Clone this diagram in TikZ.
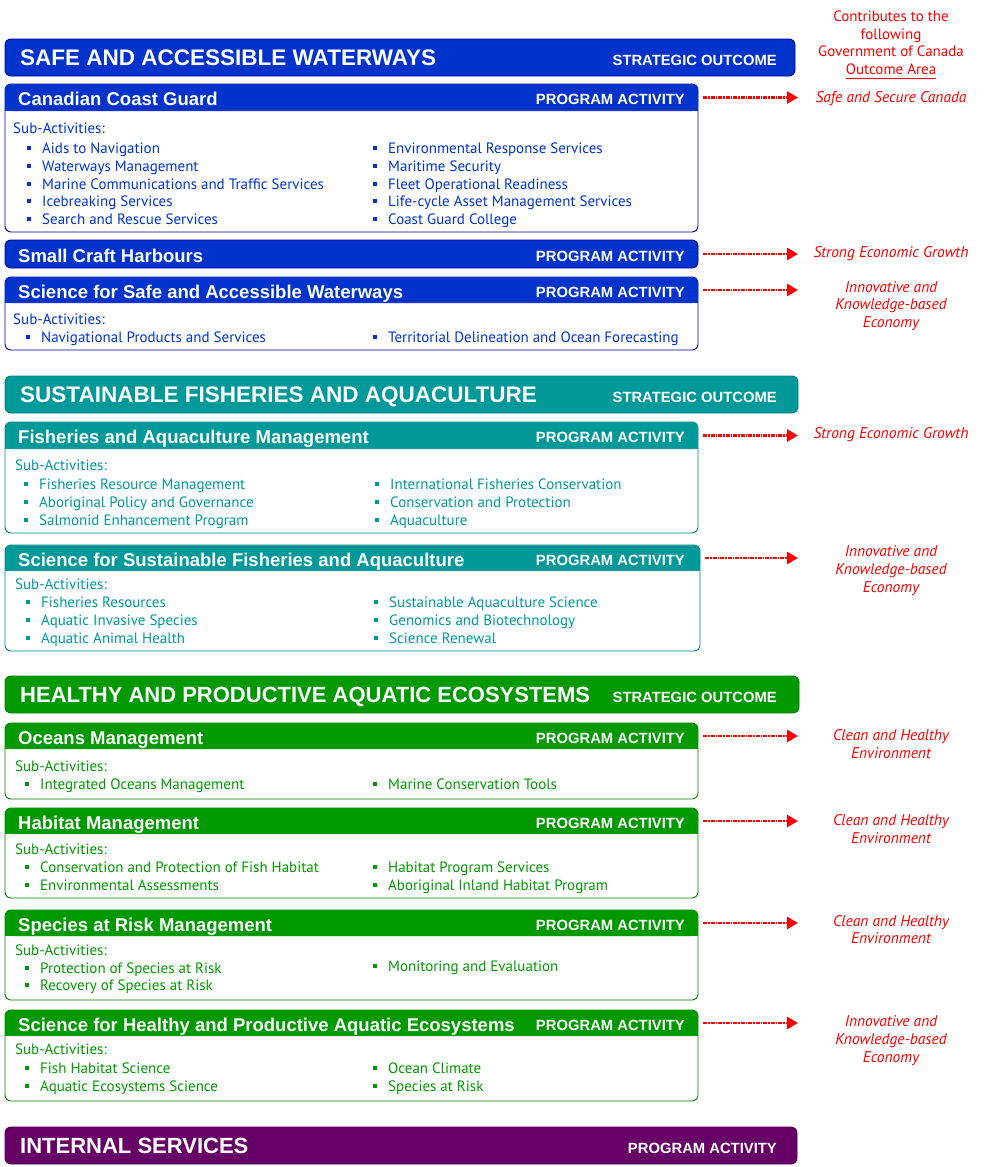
\documentclass[tikz,border=0pt]{standalone}
\usepackage{fontspec}
\setmainfont{PT Sans}
\newfontfamily\hf{Liberation Sans}
\usetikzlibrary{arrows.meta}
\definecolor{blueC}{RGB}{0,51,204}
\definecolor{blueF}{RGB}{0,0,153}
\definecolor{tealC}{RGB}{0,153,153}
\definecolor{tealF}{RGB}{0,128,128}
\definecolor{greenC}{RGB}{0,153,0}
\definecolor{greenF}{RGB}{0,128,0}
\definecolor{purpC}{RGB}{102,0,102}
\definecolor{purpF}{RGB}{80,0,80}
\definecolor{redC}{RGB}{255,0,0}
\newcounter{sacount}
\def\cur{blueC}
\newcommand\SObar[7]{%
  \draw[#5F, fill=#5C, line width=0.9pt, rounded corners=6pt] (5,#2) rectangle (#4,#3);
  \node[sotitle] (#1) at (20,{(#2+#3)/2}) {#6};
  \node[solabel] (#1lab) at (777,{(#2+#3)/2+3}) {#7};
}
\newcommand\PAbox[7]{%
  \draw[#5F, line width=0.9pt, rounded corners=6pt] (5,#2) rectangle (#7,#4);
  \fill[#5C, rounded corners=6pt] (5,#2) rectangle (#7,#3);
  \fill[#5C] (5,#3-8) rectangle (#7,#3);
  \node[patitle] (#1) at (18,{(#2+#3)/2+1.5}) {#6};
  \node[solabel] (#1lab) at (685,{(#2+#3)/2+2}) {PROGRAM ACTIVITY};
  \coordinate (#1e) at (#7,{(#2+#3)/2});
}
\newcommand\SUBS[2]{\stepcounter{sacount}\node[sub] (sa\arabic{sacount}) at (#1,#2) {Sub-Activities:};}
\newcommand\SA[3]{\stepcounter{sacount}%
  \node[bul] (bu\arabic{sacount}) at (#1-13,#2) {};
  \node[sub] (sa\arabic{sacount}) at (#1,#2) {#3};}
\newcommand\OL[3]{\node[outc] (#1) at (891,#2) {#3};}
\begin{document}
\begin{tikzpicture}[x=1pt,y=-1pt,
  sotitle/.style={font=\hf\bfseries\fontsize{22.5}{24}\selectfont, text=white, inner sep=0pt, text height=15pt, text depth=0pt, anchor=west},
  solabel/.style={font=\hf\bfseries\fontsize{14.8}{16}\selectfont, text=white, inner sep=0pt, text height=10.6pt, text depth=0pt, anchor=east},
  patitle/.style={font=\hf\bfseries\fontsize{18.5}{20}\selectfont, text=white, inner sep=0pt, text height=13.2pt, text depth=0pt, anchor=west},
  sub/.style={font=\fontsize{15}{17}\selectfont, text=\cur, inner sep=0pt, text height=10.3pt, text depth=0pt, anchor=west},
  bul/.style={fill=\cur, minimum size=4pt, inner sep=0pt},
  arr/.style={draw=redC, line width=2.6pt, dash pattern=on 4pt off 1pt on 1.5pt off 1pt, -{Triangle[length=11pt,width=12pt,fill=redC]}},
  outc/.style={font=\itshape\fontsize{15.5}{17}\selectfont, text=redC, inner sep=0pt, text height=10.5pt, text depth=0pt},
  outh/.style={font=\fontsize{15}{17}\selectfont, text=redC, inner sep=0pt, text height=10.3pt, text depth=0pt},
]
\useasboundingbox (0,0) rectangle (985,1167);
% header of right column
\node[outh] (h1) at (891,16) {Contributes to the};
\node[outh] (h2) at (891,34) {following};
\node[outh] (h3) at (891,51) {Government of Canada};
\node[outh] (h4) at (891,69) {Outcome Area};
\draw[redC, line width=1pt] ([yshift=-4pt]h4.south west) -- ([yshift=-4pt]h4.south east);

% ===== Safe and accessible waterways
\def\cur{blueC}
\SObar{so1}{39}{76}{795}{blue}{SAFE AND ACCESSIBLE WATERWAYS}{STRATEGIC OUTCOME}
\PAbox{p1}{84}{111}{232}{blue}{Canadian Coast Guard}{698}
\SUBS{13}{128}
\SA{42}{148}{Aids to Navigation}
\SA{42}{166}{Waterways Management}
\SA{42}{184}{Marine Communications and Traffic Services}
\SA{42}{201}{Icebreaking Services}
\SA{42}{219}{Search and Rescue Services}
\SA{388}{148}{Environmental Response Services}
\SA{388}{166}{Maritime Security}
\SA{388}{184}{Fleet Operational Readiness}
\SA{388}{201}{Life-cycle Asset Management Services}
\SA{388}{219}{Coast Guard College}

\draw[blueF, fill=blueC, line width=0.9pt, rounded corners=6pt] (5,240) rectangle (698,268);
\node[patitle] (p2) at (18,255.5) {Small Craft Harbours};
\node[solabel] (p2lab) at (685,256) {PROGRAM ACTIVITY};
\coordinate (p2e) at (698,254);

\PAbox{p3}{277}{303}{350}{blue}{Science for Safe and Accessible Waterways}{698}
\SUBS{13}{319}
\SA{41}{337}{Navigational Products and Services}
\SA{388}{337}{Territorial Delineation and Ocean Forecasting}

% ===== Sustainable fisheries
\def\cur{tealC}
\SObar{so2}{376}{413}{798}{teal}{SUSTAINABLE FISHERIES AND AQUACULTURE}{STRATEGIC OUTCOME}
\PAbox{p4}{422}{449}{533}{teal}{Fisheries and Aquaculture Management}{698}
\SUBS{15}{465}
\SA{39}{484}{Fisheries Resource Management}
\SA{39}{502}{Aboriginal Policy and Governance}
\SA{39}{520}{Salmonid Enhancement Program}
\SA{390}{484}{International Fisheries Conservation}
\SA{390}{502}{Conservation and Protection}
\SA{390}{520}{Aquaculture}

\PAbox{p5}{545}{571}{651}{teal}{Science for Sustainable Fisheries and Aquaculture}{700}
\SUBS{15}{584}
\SA{41}{602}{Fisheries Resources}
\SA{41}{620}{Aquatic Invasive Species}
\SA{41}{638}{Aquatic Animal Health}
\SA{389}{602}{Sustainable Aquaculture Science}
\SA{389}{620}{Genomics and Biotechnology}
\SA{389}{638}{Science Renewal}

% ===== Healthy ecosystems
\def\cur{greenC}
\SObar{so3}{676}{713}{799}{green}{\fontsize{22}{24}\selectfont HEALTHY AND PRODUCTIVE AQUATIC ECOSYSTEMS}{STRATEGIC OUTCOME}
\PAbox{p6}{723}{749}{799}{green}{Oceans Management}{698}
\SUBS{15}{766}
\SA{40}{784}{Integrated Oceans Management}
\SA{388}{784}{Marine Conservation Tools}

\PAbox{p7}{808}{834}{898}{green}{Habitat Management}{698}
\SUBS{15}{849}
\SA{40}{867}{Conservation and Protection of Fish Habitat}
\SA{40}{885}{Environmental Assessments}
\SA{388}{867}{Habitat Program Services}
\SA{388}{885}{Aboriginal Inland Habitat Program}

\PAbox{p8}{910}{936}{1000}{green}{Species at Risk Management}{698}
\SUBS{15}{950}
\SA{40}{968}{Protection of Species at Risk}
\SA{40}{985}{Recovery of Species at Risk}
\SA{388}{966}{Monitoring and Evaluation}

\PAbox{p9}{1010}{1036}{1101}{green}{Science for Healthy and Productive Aquatic Ecosystems}{698}
\SUBS{15}{1049}
\SA{40}{1068}{Fish Habitat Science}
\SA{40}{1086}{Aquatic Ecosystems Science}
\SA{388}{1068}{Ocean Climate}
\SA{388}{1086}{Species at Risk}

% ===== Internal services
\SObar{so4}{1127}{1164}{797}{purp}{\fontsize{22}{24}\selectfont INTERNAL SERVICES}{PROGRAM ACTIVITY}

% ===== outcome areas and arrows
\OL{o1}{97}{Safe and Secure Canada}
\OL{o2}{252}{Strong Economic Growth}
\OL{o3a}{287}{Innovative and}
\OL{o3b}{304}{Knowledge-based}
\OL{o3c}{322}{Economy}
\OL{o4}{433}{Strong Economic Growth}
\OL{o5a}{551}{Innovative and}
\OL{o5b}{569}{Knowledge-based}
\OL{o5c}{587}{Economy}
\OL{o6a}{735}{Clean and Healthy}
\OL{o6b}{753}{Environment}
\OL{o7a}{820}{Clean and Healthy}
\OL{o7b}{838}{Environment}
\OL{o8a}{921}{Clean and Healthy}
\OL{o8b}{938}{Environment}
\OL{o9a}{1021}{Innovative and}
\OL{o9b}{1039}{Knowledge-based}
\OL{o9c}{1057}{Economy}

\foreach \p in {p1,p2,p3,p4,p5,p6,p7,p8,p9}{
  \coordinate (\p t) at (798,0 |- \p e);
  \draw[arr] ([xshift=5pt]\p e) -- (\p t);
}
\end{tikzpicture}
\end{document}
